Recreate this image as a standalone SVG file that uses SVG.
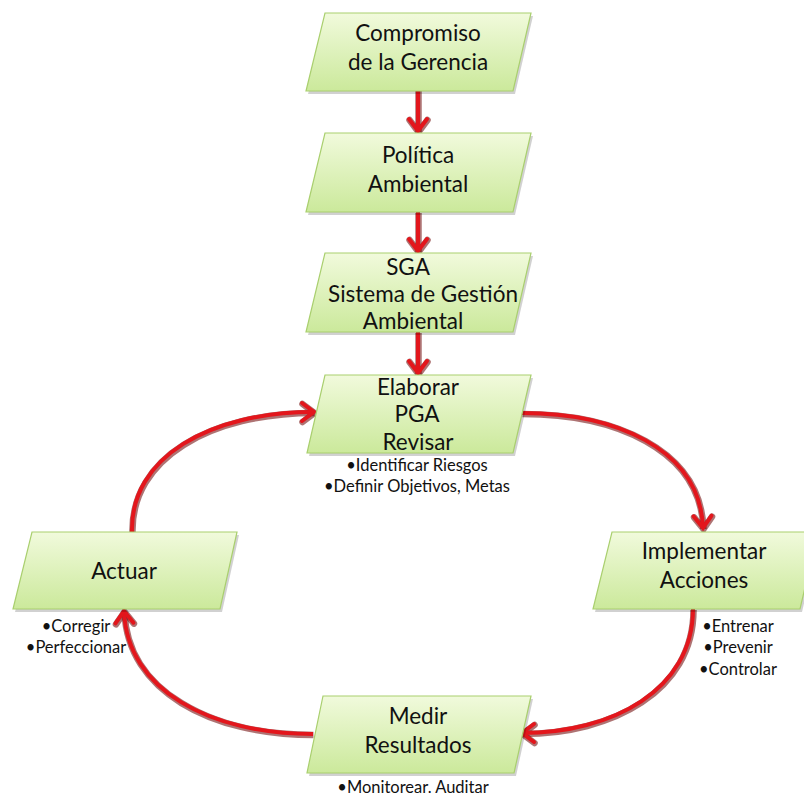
<svg xmlns="http://www.w3.org/2000/svg" width="804" height="796" viewBox="0 0 804 796">
<defs>
<linearGradient id="g" x1="0" y1="0" x2="0" y2="1">
<stop offset="0" stop-color="#f1fadc"/>
<stop offset="1" stop-color="#cbe99b"/>
</linearGradient>
<marker id="ah" markerUnits="userSpaceOnUse" markerWidth="30" markerHeight="30" refX="0" refY="0" viewBox="-16 -15 20 30" orient="auto" overflow="visible">
<path d="M-12,-9 L0,0 L-12,9" fill="none" stroke="#e3161c" stroke-width="4" stroke-linecap="round" stroke-linejoin="miter"/>
</marker>
<marker id="ahs" markerUnits="userSpaceOnUse" markerWidth="30" markerHeight="30" refX="0" refY="0" viewBox="-16 -15 20 30" orient="auto" overflow="visible">
<path d="M-12,-9 L0,0 L-12,9" fill="none" stroke="#6b0000" stroke-opacity="0.55" stroke-width="6.5" stroke-linecap="round"/>
</marker>
</defs>
<style>
.n{fill:url(#g);stroke:#a9cf6e;stroke-width:1.2}
.sh{fill:#000;opacity:0.18}
.t{font-family:Lato,"Liberation Sans",sans-serif;font-size:22.5px;fill:#111;text-anchor:middle}
.s{font-family:Lato,"Liberation Sans",sans-serif;font-size:16.5px;fill:#111;text-anchor:middle}
.c{fill:none;stroke:#e3161c;stroke-width:4;marker-end:url(#ah)}
.cs{fill:none;stroke:#6b0000;stroke-opacity:0.55;stroke-width:6.5;marker-end:url(#ahs)}
</style>
<rect width="804" height="796" fill="#fff"/>

<g id="connectors">
<g transform="translate(0.5,1)">
<path class="cs" d="M418,90 L418,131"/>
<path class="cs" d="M418,212 L418,251"/>
<path class="cs" d="M418,332 L418,373"/>
<path class="cs" d="M522,413 C612,413 700,447 703,528"/>
<path class="cs" d="M693,609 C693,690 612,733 522,733"/>
<path class="cs" d="M313,734 C210,734 127,690 124,611"/>
<path class="cs" d="M132,532 C130,457 210,412 314,412"/>
</g>
<path class="c" d="M418,90 L418,131"/>
<path class="c" d="M418,212 L418,251"/>
<path class="c" d="M418,332 L418,373"/>
<path class="c" d="M522,413 C612,413 700,447 703,528"/>
<path class="c" d="M693,609 C693,690 612,733 522,733"/>
<path class="c" d="M313,734 C210,734 127,690 124,611"/>
<path class="c" d="M132,532 C130,457 210,412 314,412"/>
</g>

<g id="compromiso">
<polygon class="sh" points="327,16 533,16 515,94 308,94"/>
<polygon class="n" points="325,13 531,13 513,91 306,91"/>
<text class="t" x="418" y="41">Compromiso</text>
<text class="t" x="418" y="70">de la Gerencia</text>
</g>

<g id="politica">
<polygon class="sh" points="327,136 533,136 515,215 308,215"/>
<polygon class="n" points="325,133 531,133 513,212 306,212"/>
<text class="t" x="418" y="163">Política</text>
<text class="t" x="418" y="192">Ambiental</text>
</g>

<g id="sga">
<polygon class="sh" points="327,256 533,256 515,335 308,335"/>
<polygon class="n" points="325,253 531,253 513,332 306,332"/>
<text class="t" x="408" y="275">SGA</text>
<text class="t" x="423" y="302">Sistema de Gestión</text>
<text class="t" x="413" y="329">Ambiental</text>
</g>

<g id="elaborar">
<polygon class="sh" points="327,378 533,378 515,456 309,456"/>
<polygon class="n" points="325,375 531,375 513,453 307,453"/>
<text class="t" x="418" y="395">Elaborar</text>
<text class="t" x="417" y="422">PGA</text>
<text class="t" x="418" y="450">Revisar</text>
<text class="s" x="417" y="471">•Identificar Riesgos</text>
<text class="s" x="417" y="492">•Definir Objetivos, Metas</text>
</g>

<g id="implementar">
<polygon class="sh" points="614,535 820,535 802,612 595,612"/>
<polygon class="n" points="612,532 818,532 800,609 593,609"/>
<text class="t" x="704" y="559">Implementar</text>
<text class="t" x="704" y="588">Acciones</text>
<text class="s" x="738" y="632">•Entrenar</text>
<text class="s" x="738" y="653">•Prevenir</text>
<text class="s" x="738" y="675">•Controlar</text>
</g>

<g id="medir">
<polygon class="sh" points="325,699 533,699 516,776 309,776"/>
<polygon class="n" points="323,696 531,696 514,773 307,773"/>
<text class="t" x="418" y="724">Medir</text>
<text class="t" x="418" y="753">Resultados</text>
<text class="s" x="413" y="793">•Monitorear. Auditar</text>
</g>

<g id="actuar">
<polygon class="sh" points="34,535 239,535 222,612 15,612"/>
<polygon class="n" points="32,532 237,532 220,609 13,609"/>
<text class="t" x="124" y="579">Actuar</text>
<text class="s" x="76" y="632">•Corregir</text>
<text class="s" x="76" y="653">•Perfeccionar</text>
</g>
</svg>
